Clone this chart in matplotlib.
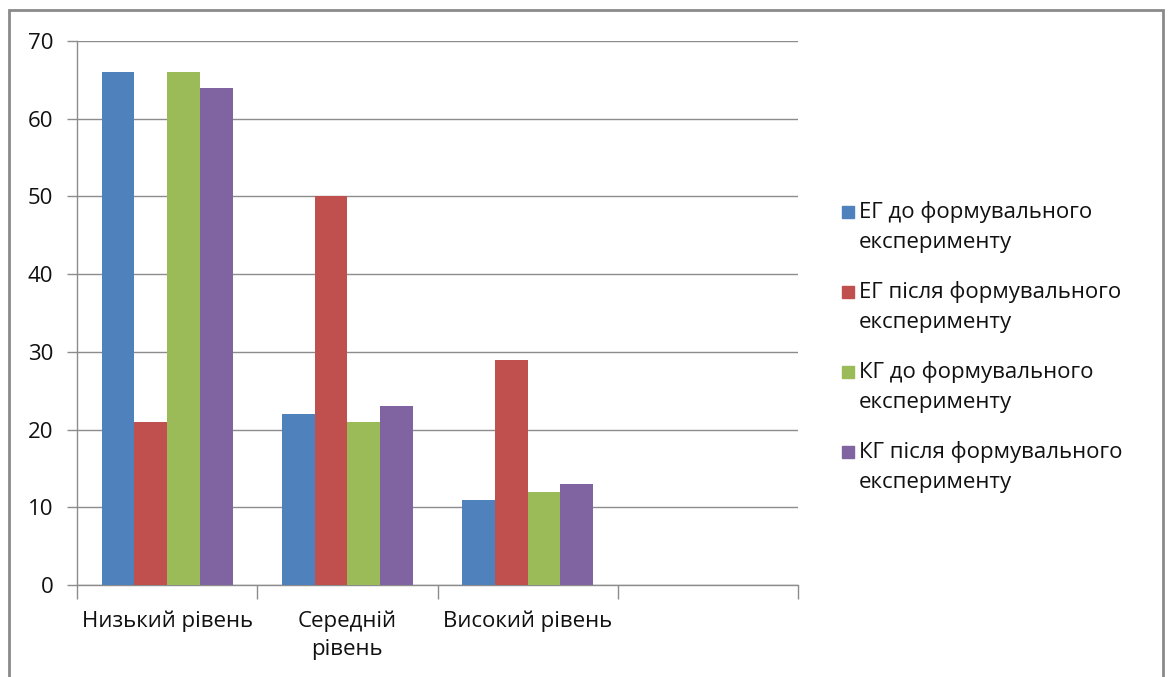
import numpy as np
import matplotlib.pyplot as plt
from matplotlib.patches import Rectangle

plt.rcParams['font.family'] = ['Open Sans', 'DejaVu Sans']

levels = ['Низький рівень', 'Середній\nрівень', 'Високий рівень']
series = ['ЕГ до формувального\nексперименту',
          'ЕГ після формувального\nексперименту',
          'КГ до формувального\nексперименту',
          'КГ після формувального\nексперименту']
eg_before = [66, 22, 11]
eg_after = [21, 50, 29]
kg_before = [66, 21, 12]
kg_after = [64, 23, 13]
colors = ['#4F81BD', '#C0504D', '#9BBB59', '#8064A2']

values = [eg_before, eg_after, kg_before, kg_after]

fig = plt.figure(figsize=(11.71, 6.77), dpi=100)
ax = fig.add_axes([77/1171, 1 - 585/677, (798 - 77)/1171, (585 - 41)/677])

# bars: 4 per group, gap of 1.5 bar widths between groups
w = 1 / 5.5
x = np.arange(len(levels))
for i, (vals, c) in enumerate(zip(values, colors)):
    ax.bar(x + (i - 1.5) * w, vals, w, color=c, edgecolor='none', zorder=3)

# an empty fourth category slot on the right
ax.set_xlim(-0.5, 3.5)
ax.set_ylim(0, 70)
ax.set_yticks(range(0, 71, 10))
ax.yaxis.grid(True, color='#8c8c8c', linewidth=1.0, zorder=0)

ax.set_xticks(x)
ax.set_xticklabels(levels, fontsize=16, color='#111111', linespacing=1.5)
ax.set_xticks(np.arange(-0.5, 3.6, 1), minor=True)
ax.tick_params(axis='x', which='major', length=0, pad=18)
ax.tick_params(axis='x', which='minor', length=10, width=1, color='#8c8c8c')
ax.tick_params(axis='y', length=7, width=1, color='#8c8c8c', pad=10,
               labelsize=16, labelcolor='#111111')

for side in ['top', 'right']:
    ax.spines[side].set_visible(False)
for side in ['left', 'bottom']:
    ax.spines[side].set_color('#8c8c8c')
    ax.spines[side].set_linewidth(1.0)

# legend drawn by hand so the swatch sits on the first text line
lx, ly = 842 / 1171, 1 - 212 / 677
step = 80 / 677
for i, (lab, c) in enumerate(zip(series, colors)):
    y = ly - i * step
    fig.patches.append(Rectangle((lx, y - 6/677), 12/1171, 12/677,
                                 transform=fig.transFigure, color=c))
    fig.text(lx + 17/1171, y + 11/677, lab, fontsize=16, color='#111111',
             va='top', ha='left', linespacing=1.55)

# outer chart frame
fig.patches.append(Rectangle((9/1171, -0.01), (1163 - 9)/1171, 1.01 - 10/677,
                             transform=fig.transFigure, fill=False,
                             edgecolor='#8a8a8a', linewidth=2))

fig.savefig('out.png', dpi=100)
